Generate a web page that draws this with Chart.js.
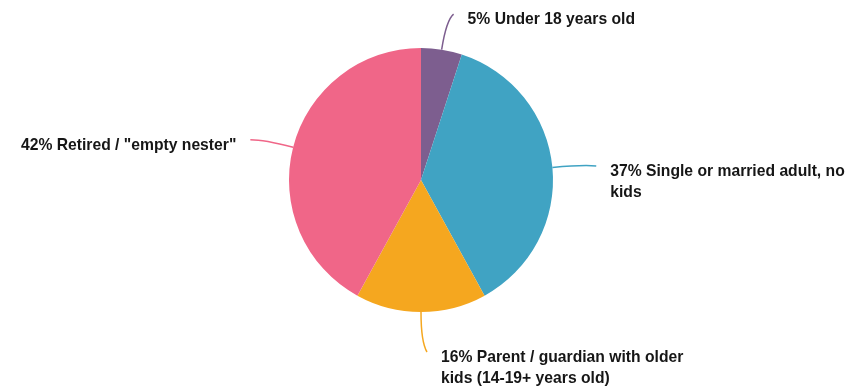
<!DOCTYPE html>
<html>
<head>
<meta charset="utf-8">
<script src="https://cdn.jsdelivr.net/npm/chart.js@4"></script>
<style>
  html, body { margin: 0; padding: 0; background: #fff; }
  #chart { display: block; }
</style>
</head>
<body>
<canvas id="chart" width="849" height="387"></canvas>
<script>
const categories = [
  "Under 18 years old",
  "Single or married adult, no kids",
  "Parent / guardian with older kids (14-19+ years old)",
  'Retired / "empty nester"',
];
const shares = [5, 37, 16, 42];
const colors = ["#7d5e8f", "#40a3c3", "#f5a71f", "#f06688"];

const FONT = "bold 15.7px 'Liberation Sans', Arial, sans-serif";
const WRAP = 255;

function wrapText(ctx, text, maxWidth) {
  const words = text.split(" ");
  const lines = [];
  let cur = "";
  for (const w of words) {
    const test = cur ? cur + " " + w : w;
    if (cur && ctx.measureText(test).width > maxWidth) {
      lines.push(cur);
      cur = w;
    } else {
      cur = test;
    }
  }
  if (cur) lines.push(cur);
  return lines;
}

const calloutLabels = {
  id: "calloutLabels",
  afterDraw(chart) {
    const ctx = chart.ctx;
    const meta = chart.getDatasetMeta(0);
    ctx.save();
    ctx.font = FONT;
    meta.data.forEach((arc, i) => {
      const p = arc.getProps(["x", "y", "startAngle", "endAngle", "outerRadius"], true);
      const mid = (p.startAngle + p.endAngle) / 2;
      const dx = Math.cos(mid), dy = Math.sin(mid);
      const side = dx >= -0.01 ? 1 : -1;
      const r = p.outerRadius;
      const sx = p.x + dx * r, sy = p.y + dy * r;
      const cx = p.x + dx * (r + 30), cy = p.y + dy * (r + 30);
      const ex = p.x + dx * (r + 38) + side * 6, ey = p.y + dy * (r + 38) + 2;

      ctx.strokeStyle = colors[i];
      ctx.lineWidth = 1.5;
      ctx.beginPath();
      ctx.moveTo(sx, sy);
      ctx.quadraticCurveTo(cx, cy, ex, ey);
      ctx.stroke();

      const text = shares[i] + "% " + categories[i];
      const lines = wrapText(ctx, text, WRAP);
      ctx.fillStyle = "#161616";
      ctx.textAlign = side > 0 ? "left" : "right";
      ctx.textBaseline = "middle";
      lines.forEach((ln, k) => {
        ctx.fillText(ln, ex + side * 14, ey + 6 + k * 21);
      });
    });
    ctx.restore();
  },
};

new Chart(document.getElementById("chart"), {
  type: "pie",
  data: {
    labels: categories,
    datasets: [{
      data: shares,
      backgroundColor: colors,
      borderWidth: 0,
    }],
  },
  options: {
    responsive: false,
    animation: false,
    layout: { padding: { left: 289, right: 296, top: 48, bottom: 75 } },
    plugins: {
      legend: { display: false },
      tooltip: { enabled: false },
    },
  },
  plugins: [calloutLabels],
});
</script>
</body>
</html>
